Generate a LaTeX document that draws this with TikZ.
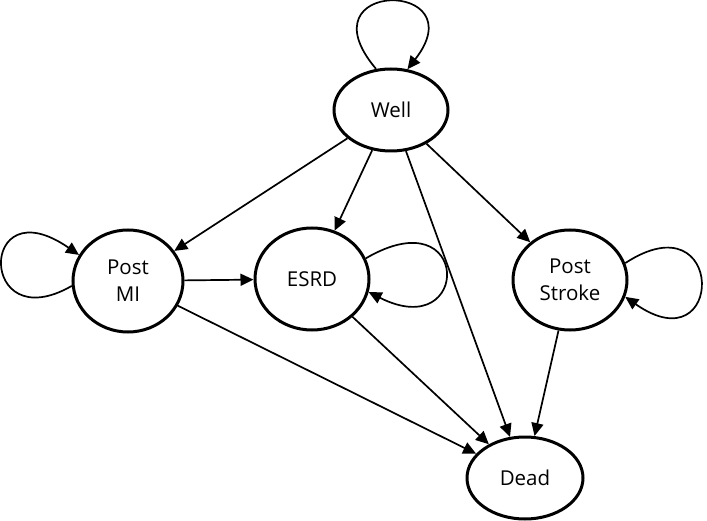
\documentclass[tikz,border=0pt]{standalone}
\usepackage{fontspec}
\setmainfont{Open Sans}
\usetikzlibrary{shapes.geometric,arrows.meta}
\begin{document}
\begin{tikzpicture}[x=1pt,y=-1pt,
  state/.style={ellipse,draw,line width=3pt,inner sep=0pt,align=center,
    font=\fontsize{20.5}{27}\selectfont},
  edge/.style={line width=1.7pt,-{Triangle[length=13pt,width=12pt]}}]
\useasboundingbox (0,0) rectangle (707,521);
\node[state,minimum width=114pt,minimum height=82pt] (well) at (391,110) {Well};
\node[state,minimum width=110pt,minimum height=102pt] (mi) at (128,281) {Post\\MI};
\node[state,minimum width=114pt,minimum height=102pt] (esrd) at (312,279) {ESRD};
\node[state,minimum width=114pt,minimum height=100pt] (stroke) at (570,280) {Post\\Stroke};
\node[state,minimum width=116pt,minimum height=82pt] (dead) at (525,478) {Dead};
% transitions
\draw[edge] (well) -- (mi);
\draw[edge] (well) -- (esrd);
\draw[edge] (well) -- (dead);
\draw[edge] (well) -- (stroke);
\draw[edge] (mi) -- (esrd);
\draw[edge] (mi) -- (dead);
\draw[edge] (esrd) -- (dead);
\draw[edge] (stroke) -- (dead);
% self loops
\draw[edge] (well.110) .. controls +(-76,-90) and +(70,-90) .. (well.68);
\draw[edge] (mi.185) .. controls +(-94,54) and +(-101,-70) .. (mi.152);
\draw[edge] (esrd.21) .. controls +(106,-62) and +(103,52) .. (esrd.-13);
\draw[edge] (stroke.17.5) .. controls +(101,-66) and +(100,70) .. (stroke.-17);
\end{tikzpicture}
\end{document}
